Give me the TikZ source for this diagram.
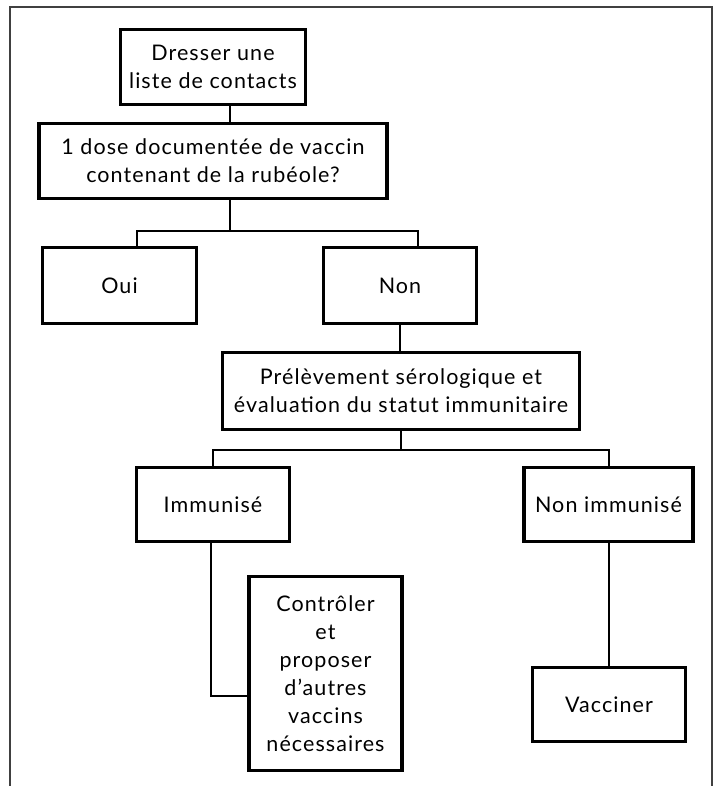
\documentclass[tikz,border=0pt]{standalone}
\usepackage{fontspec}
\setmainfont{Lato}[LetterSpace=5]
\usetikzlibrary{calc}
\begin{document}
\begin{tikzpicture}[x=1pt,y=-1pt,
  box/.style={draw=black,line width=3.2pt,inner sep=0pt,align=center,
    font=\fontsize{21.5}{28}\selectfont,minimum height=75pt},
  conn/.style={draw=black,line width=2pt},
  frame/.style={draw=black!75,line width=1.1pt}]
\useasboundingbox (0,0) rectangle (717,786);
\draw[frame] (10,786) -- (10,7) -- (712,7) -- (712,786);
\node[box,minimum width=185pt] (b1) at (213,67) {Dresser une\\liste de contacts};
\node[box,minimum width=348pt] (b2) at (213,161) {1 dose documentée de vaccin\\contenant de la rubéole?};
\node[box,minimum width=154pt,minimum height=76pt] (oui) at (119.5,285.5) {Oui};
\node[box,minimum width=153pt,minimum height=76pt] (non) at (400,285.5) {Non};
\node[box,minimum width=357pt,minimum height=77pt] (b3) at (401,391) {Prélèvement sérologique et\\évaluation du statut immunitaire};
\node[box,minimum width=153pt,minimum height=74pt] (imm) at (213,504.5) {Immunisé};
\node[box,minimum width=169pt,minimum height=74pt] (nimm) at (608.5,504.5) {Non immunisé};
\node[box,minimum width=153pt,minimum height=194pt] (ctrl) at (325.5,673.5) {Contrôler\\et\\proposer\\d’autres\\vaccins\\nécessaires};
\node[box,minimum width=153pt,minimum height=74pt] (vac) at (609,704.5) {Vacciner};
\coordinate (j1) at (230,231);
\coordinate (jo) at (136.5,231);
\coordinate (jn) at (418,231);
\coordinate (h2) at (401,450);
\coordinate (c1) at (211,696);
\draw[conn] (b1.south -| j1) -- (b2.north -| j1);
\draw[conn] (b2.south -| j1) -- (j1);
\draw[conn] (jo |- oui.north) -- (jo) -- (jn) -- (jn |- non.north);
\draw[conn] (non.south) -- (non.south |- b3.north);
\draw[conn] (b3.south) -- (h2);
\draw[conn] (imm.north) |- (h2) -| (nimm.north);
\draw[conn] (imm.south -| c1) -- (c1) -- (c1 -| ctrl.west);
\draw[conn] (nimm.south) -- (nimm.south |- vac.north);
\end{tikzpicture}
\end{document}
